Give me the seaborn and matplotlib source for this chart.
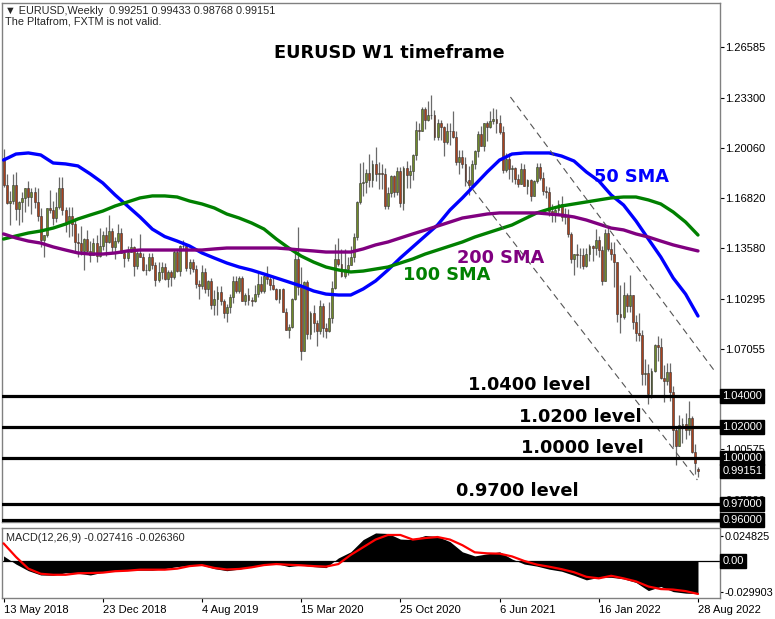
import numpy as np
import matplotlib
matplotlib.use('Agg')
import matplotlib.pyplot as plt
import matplotlib.transforms as mtransforms
import seaborn as sns

# ─── Weekly EURUSD bars, 13 May 2018 .. 28 Aug 2022 (bar index = week number)
#
FIRST_OPEN = 1.1943
LAST_OPEN = 0.99251

CLOSE = [
    1.1768, 1.1652, 1.1660, 1.1768, 1.1609, 1.1654, 1.1684, 1.1747, 1.1686, 1.1719,
    1.1658, 1.1567, 1.1410, 1.1439, 1.1620, 1.1602, 1.1551, 1.1625, 1.1748, 1.1604,
    1.1524, 1.1562, 1.1511, 1.1400, 1.1388, 1.1336, 1.1418, 1.1338, 1.1312, 1.1388,
    1.1306, 1.1370, 1.1443, 1.1398, 1.1468, 1.1363, 1.1406, 1.1456, 1.1326, 1.1296,
    1.1333, 1.1365, 1.1241, 1.1325, 1.1301, 1.1217, 1.1216, 1.1300, 1.1245, 1.1150,
    1.1201, 1.1234, 1.1158, 1.1204, 1.1169, 1.1333, 1.1209, 1.1370, 1.1370, 1.1226,
    1.1269, 1.1221, 1.1127, 1.1109, 1.1202, 1.1090, 1.1143, 1.0989, 1.1030, 1.1073,
    1.1017, 1.0940, 1.0978, 1.1042, 1.1144, 1.1080, 1.1165, 1.1017, 1.1051, 1.1021,
    1.1018, 1.1060, 1.1122, 1.1079, 1.1176, 1.1158, 1.1121, 1.1090, 1.1027, 1.1092,
    1.0944, 1.0830, 1.0847, 1.1026, 1.1285, 1.1106, 1.0690, 1.1140, 1.0800, 1.0936,
    1.0876, 1.0818, 1.0982, 1.0841, 1.0821, 1.0902, 1.1098, 1.1290, 1.1255, 1.1177,
    1.1219, 1.1249, 1.1298, 1.1426, 1.1655, 1.1778, 1.1787, 1.1842, 1.1795, 1.1903,
    1.1838, 1.1845, 1.1837, 1.1632, 1.1716, 1.1826, 1.1718, 1.1859, 1.1646, 1.1875,
    1.1833, 1.1856, 1.1962, 1.2121, 1.2114, 1.2255, 1.2186, 1.2217, 1.2220, 1.2079,
    1.2169, 1.2138, 1.2045, 1.2117, 1.2117, 1.2076, 1.1916, 1.1950, 1.1904, 1.1796,
    1.1763, 1.1900, 1.1983, 1.2098, 1.2019, 1.2164, 1.2143, 1.2180, 1.2193, 1.2169,
    1.2107, 1.1864, 1.1936, 1.1866, 1.1877, 1.1807, 1.1772, 1.1870, 1.1761, 1.1795,
    1.1697, 1.1794, 1.1880, 1.1813, 1.1725, 1.1719, 1.1597, 1.1572, 1.1601, 1.1645,
    1.1559, 1.1567, 1.1446, 1.1288, 1.1318, 1.1316, 1.1315, 1.1240, 1.1319, 1.1370,
    1.1359, 1.1413, 1.1343, 1.1147, 1.1452, 1.1349, 1.1322, 1.1267, 1.0929, 1.0911,
    1.1052, 1.0983, 1.1051, 1.0877, 1.0810, 1.0793, 1.0545, 1.0552, 1.0411, 1.0562,
    1.0733, 1.0719, 1.0519, 1.0497, 1.0554, 1.0426, 1.0182, 1.0079, 1.0212, 1.0219,
    1.0180, 1.0260, 1.0039, 0.9965, 0.99151,
]

HIGH = [
    1.1997, 1.1835, 1.1725, 1.1840, 1.1852, 1.1660, 1.1720, 1.1746, 1.1790, 1.1745,
    1.1750, 1.1746, 1.1620, 1.1445, 1.1620, 1.1734, 1.1660, 1.1720, 1.1815, 1.1815,
    1.1625, 1.1621, 1.1623, 1.1549, 1.1457, 1.1500, 1.1420, 1.1472, 1.1403, 1.1420,
    1.1443, 1.1485, 1.1470, 1.1497, 1.1570, 1.1490, 1.1430, 1.1514, 1.1490, 1.1340,
    1.1370, 1.1420, 1.1370, 1.1340, 1.1449, 1.1325, 1.1255, 1.1323, 1.1324, 1.1265,
    1.1265, 1.1265, 1.1264, 1.1215, 1.1213, 1.1348, 1.1347, 1.1377, 1.1412, 1.1380,
    1.1285, 1.1285, 1.1250, 1.1153, 1.1250, 1.1230, 1.1150, 1.1165, 1.1085, 1.1110,
    1.1110, 1.1025, 1.0998, 1.1063, 1.1180, 1.1180, 1.1175, 1.1175, 1.1070, 1.1097,
    1.1040, 1.1117, 1.1200, 1.1175, 1.1188, 1.1240, 1.1170, 1.1173, 1.1100, 1.1095,
    1.1100, 1.0970, 1.0866, 1.1035, 1.1357, 1.1496, 1.1236, 1.1147, 1.1148, 1.0951,
    1.0990, 1.0890, 1.1019, 1.1000, 1.0876, 1.1008, 1.1147, 1.1384, 1.1422, 1.1350,
    1.1350, 1.1303, 1.1371, 1.1452, 1.1659, 1.1908, 1.1916, 1.1870, 1.1966, 1.1925,
    1.2011, 1.1917, 1.1900, 1.1873, 1.1755, 1.1830, 1.1830, 1.1880, 1.1880, 1.1891,
    1.1920, 1.1894, 1.1964, 1.2177, 1.2167, 1.2273, 1.2272, 1.2310, 1.2349, 1.2250,
    1.2190, 1.2185, 1.2150, 1.2169, 1.2170, 1.2243, 1.2113, 1.1990, 1.1990, 1.1945,
    1.1886, 1.1928, 1.1995, 1.2117, 1.2150, 1.2170, 1.2181, 1.2245, 1.2266, 1.2255,
    1.2218, 1.2150, 1.1975, 1.1975, 1.1895, 1.1880, 1.1835, 1.1909, 1.1900, 1.1807,
    1.1805, 1.1800, 1.1909, 1.1909, 1.1850, 1.1760, 1.1750, 1.1640, 1.1624, 1.1668,
    1.1692, 1.1616, 1.1610, 1.1460, 1.1319, 1.1383, 1.1355, 1.1360, 1.1360, 1.1386,
    1.1376, 1.1483, 1.1436, 1.1370, 1.1484, 1.1495, 1.1395, 1.1395, 1.1266, 1.1121,
    1.1137, 1.1070, 1.1185, 1.1054, 1.0924, 1.0936, 1.0830, 1.0642, 1.0606, 1.0580,
    1.0737, 1.0787, 1.0774, 1.0601, 1.0614, 1.0615, 1.0465, 1.0200, 1.0278, 1.0258,
    1.0293, 1.0368, 1.0273, 1.0090, 0.99433,
]

LOW = [
    1.1750, 1.1645, 1.1510, 1.1645, 1.1541, 1.1508, 1.1528, 1.1590, 1.1628, 1.1575,
    1.1614, 1.1530, 1.1366, 1.1301, 1.1432, 1.1585, 1.1510, 1.1526, 1.1610, 1.1570,
    1.1463, 1.1432, 1.1433, 1.1335, 1.1301, 1.1314, 1.1216, 1.1335, 1.1267, 1.1321,
    1.1269, 1.1300, 1.1344, 1.1309, 1.1390, 1.1335, 1.1290, 1.1390, 1.1325, 1.1234,
    1.1276, 1.1330, 1.1175, 1.1220, 1.1300, 1.1210, 1.1183, 1.1210, 1.1225, 1.1111,
    1.1135, 1.1160, 1.1150, 1.1106, 1.1115, 1.1160, 1.1201, 1.1180, 1.1350, 1.1207,
    1.1193, 1.1200, 1.1101, 1.1027, 1.1090, 1.1066, 1.1050, 1.0965, 1.0926, 1.0927,
    1.0990, 1.0905, 1.0879, 1.0940, 1.1000, 1.1070, 1.1070, 1.1014, 1.0990, 1.0990,
    1.0981, 1.1008, 1.1040, 1.1065, 1.1066, 1.1125, 1.1085, 1.1085, 1.1020, 1.1000,
    1.0941, 1.0827, 1.0778, 1.0840, 1.1020, 1.1055, 1.0636, 1.0690, 1.0768, 1.0769,
    1.0813, 1.0727, 1.0800, 1.0782, 1.0775, 1.0815, 1.0870, 1.1095, 1.1240, 1.1168,
    1.1166, 1.1185, 1.1253, 1.1270, 1.1413, 1.1644, 1.1696, 1.1712, 1.1753, 1.1754,
    1.1789, 1.1737, 1.1737, 1.1612, 1.1612, 1.1687, 1.1689, 1.1702, 1.1622, 1.1602,
    1.1745, 1.1745, 1.1800, 1.1925, 1.2058, 1.2114, 1.2129, 1.2180, 1.2193, 1.2054,
    1.2054, 1.2058, 1.1952, 1.2031, 1.2023, 1.2070, 1.1893, 1.1835, 1.1873, 1.1762,
    1.1704, 1.1760, 1.1870, 1.1950, 1.2020, 1.1985, 1.2051, 1.2136, 1.2158, 1.2102,
    1.2094, 1.1846, 1.1847, 1.1807, 1.1782, 1.1770, 1.1752, 1.1770, 1.1760, 1.1705,
    1.1664, 1.1697, 1.1780, 1.1800, 1.1700, 1.1684, 1.1563, 1.1529, 1.1524, 1.1570,
    1.1535, 1.1512, 1.1432, 1.1264, 1.1185, 1.1235, 1.1226, 1.1222, 1.1234, 1.1273,
    1.1272, 1.1315, 1.1299, 1.1121, 1.1142, 1.1340, 1.1280, 1.1106, 1.0878, 1.0806,
    1.0900, 1.0945, 1.0945, 1.0837, 1.0757, 1.0756, 1.0470, 1.0470, 1.0350, 1.0386,
    1.0557, 1.0627, 1.0510, 1.0359, 1.0469, 1.0366, 1.0072, 0.9952, 1.0079, 1.0096,
    1.0123, 1.0148, 1.0034, 0.9899, 0.98768,
]

# ─── Moving averages and MACD, read every 4 weeks
#
BARS_4W = list(range(0, 225, 4))
SMA_50 = [1.1927, 1.1966, 1.1973, 1.1960, 1.1908, 1.1902, 1.1889, 1.1837, 1.1779, 1.1701,
          1.1630, 1.1559, 1.1480, 1.1432, 1.1403, 1.1371, 1.1326, 1.1293, 1.1261, 1.1235,
          1.1215, 1.1190, 1.1164, 1.1138, 1.1112, 1.1080, 1.1060, 1.1054, 1.1054, 1.1093,
          1.1145, 1.1216, 1.1294, 1.1365, 1.1436, 1.1507, 1.1604, 1.1682, 1.1766, 1.1850,
          1.1927, 1.1966, 1.1973, 1.1973, 1.1973, 1.1953, 1.1921, 1.1850, 1.1792, 1.1701,
          1.1636, 1.1533, 1.1416, 1.1300, 1.1164, 1.1060, 1.0918]
SMA_100 = [1.1416, 1.1436, 1.1455, 1.1468, 1.1487, 1.1513, 1.1546, 1.1572, 1.1597, 1.1630,
           1.1656, 1.1682, 1.1695, 1.1695, 1.1688, 1.1662, 1.1643, 1.1617, 1.1578, 1.1552,
           1.1520, 1.1481, 1.1416, 1.1358, 1.1306, 1.1267, 1.1235, 1.1216, 1.1203, 1.1209,
           1.1222, 1.1235, 1.1261, 1.1287, 1.1319, 1.1345, 1.1371, 1.1397, 1.1429, 1.1455,
           1.1481, 1.1507, 1.1546, 1.1585, 1.1610, 1.1630, 1.1643, 1.1656, 1.1669, 1.1682,
           1.1688, 1.1688, 1.1669, 1.1643, 1.1591, 1.1526, 1.1442]
SMA_200 = [1.1449, 1.1423, 1.1403, 1.1390, 1.1365, 1.1345, 1.1326, 1.1319, 1.1319, 1.1326,
           1.1339, 1.1345, 1.1345, 1.1345, 1.1345, 1.1345, 1.1345, 1.1352, 1.1358, 1.1358,
           1.1358, 1.1358, 1.1358, 1.1352, 1.1345, 1.1339, 1.1332, 1.1332, 1.1332, 1.1352,
           1.1378, 1.1397, 1.1423, 1.1449, 1.1474, 1.1500, 1.1526, 1.1552, 1.1565, 1.1578,
           1.1585, 1.1585, 1.1585, 1.1585, 1.1578, 1.1571, 1.1559, 1.1539, 1.1513, 1.1487,
           1.1475, 1.1449, 1.1429, 1.1403, 1.1378, 1.1358, 1.1339]
MACD_MAIN = [0.0050, -0.0030, -0.0095, -0.0137, -0.0140, -0.0115, -0.0120, -0.0137,
             -0.0110, -0.0095, -0.0090, -0.0090, -0.0090, -0.0075, -0.0055, -0.0045,
             -0.0040, -0.0075, -0.0095, -0.0080, -0.0055, -0.0035, -0.0025, -0.0055,
             -0.0040, -0.0055, -0.0065, 0.0030, 0.0090, 0.0210, 0.0275, 0.0270,
             0.0215, 0.0210, 0.0250, 0.0240, 0.0190, 0.0090, 0.0050, 0.0070,
             0.0090, 0.0020, -0.0030, -0.0050, -0.0080, -0.0100, -0.0140, -0.0185,
             -0.0160, -0.0160, -0.0175, -0.0210, -0.0290, -0.0250, -0.0300, -0.0315,
             -0.0320]
MACD_SIGNAL = [0.0173, 0.0040, -0.0075, -0.0125, -0.0135, -0.0135, -0.0120, -0.0118,
               -0.0114, -0.0100, -0.0095, -0.0085, -0.0085, -0.0085, -0.0075, -0.0050,
               -0.0040, -0.0068, -0.0083, -0.0078, -0.0062, -0.0040, -0.0030, -0.0037,
               -0.0042, -0.0050, -0.0055, -0.0030, 0.0060, 0.0135, 0.0210, 0.0255,
               0.0255, 0.0210, 0.0225, 0.0235, 0.0210, 0.0155, 0.0085, 0.0075,
               0.0072, 0.0045, 0.0000, -0.0035, -0.0056, -0.0080, -0.0110, -0.0155,
               -0.0170, -0.0145, -0.0170, -0.0200, -0.0250, -0.0275, -0.0280, -0.0295,
               -0.0323]

# ─── Levels, axis labels, drawn channel
#
LEVELS = [1.04, 1.02, 1.00, 0.97, 0.96]
LEVEL_TEXT = ['1.0400 level', '1.0200 level', '1.0000 level', '0.9700 level']
PRICE_TICKS = [1.26585, 1.23300, 1.20060, 1.16820, 1.13580, 1.10295, 1.07055, 1.00575, 0.97290]
MACD_TICKS = [0.024825, -0.029903]
DATE_TICK_BARS = [0, 32, 64, 96, 128, 160, 192, 224]
DATE_LABELS = ['13 May 2018', '23 Dec 2018', '4 Aug 2019', '15 Mar 2020',
               '25 Oct 2020', '6 Jun 2021', '16 Jan 2022', '28 Aug 2022']
CHANNEL = [((163.5, 1.2335), (229.6, 1.0556)),
           ((149.0, 1.1798), (223.8, 0.9857))]

sns.set_style('white')
plt.rcParams['font.family'] = ['DejaVu Sans']
SMALL = ['Liberation Sans', 'DejaVu Sans']

W, H = 775, 619
fig = plt.figure(figsize=(W / 100, H / 100), dpi=100)


def px_box(x0, y0, x1, y1):
    return [x0 / W, 1 - y1 / H, (x1 - x0) / W, (y1 - y0) / H]


ax = fig.add_axes(px_box(2, 3, 720, 522))
mx = fig.add_axes(px_box(2, 528, 720, 598))

# ─── Candles
#
close = np.array(CLOSE)
opens = np.array([FIRST_OPEN] + CLOSE[:-1])
opens[-1] = LAST_OPEN
high = np.maximum(np.array(HIGH), np.maximum(opens, close))
low = np.minimum(np.array(LOW), np.minimum(opens, close))
bars = np.arange(len(close))
up = close >= opens

ax.vlines(bars, low, high, color='#6a6a6a', lw=0.9, zorder=2)
ax.bar(bars[up], (close - opens)[up], bottom=opens[up], width=0.62,
       color='#6f8a2a', edgecolor='#333333', lw=0.4, zorder=3)
ax.bar(bars[~up], (close - opens)[~up], bottom=opens[~up], width=0.62,
       color='#a9421d', edgecolor='#333333', lw=0.4, zorder=3)

# ─── Moving averages
#
sns.lineplot(x=BARS_4W, y=SMA_50, ax=ax, color='#0000ff', linewidth=2.4, zorder=4)
sns.lineplot(x=BARS_4W, y=SMA_100, ax=ax, color='#008000', linewidth=2.4, zorder=4)
sns.lineplot(x=BARS_4W, y=SMA_200, ax=ax, color='#800080', linewidth=2.4, zorder=4)

# channel lines
for (b0, p0), (b1, p1) in CHANNEL:
    ax.plot([b0, b1], [p0, p1], color='#555555', lw=0.8, ls=(0, (6, 4)), zorder=4)

# horizontal levels
trans = mtransforms.blended_transform_factory(ax.transAxes, ax.transData)
box = dict(boxstyle='square,pad=0.18', fc='black', ec='black')
for lv in LEVELS:
    ax.axhline(lv, color='black', lw=2.3, zorder=5)
    ax.text(1.003, lv, f'{lv:.5f}', transform=trans, color='white', fontsize=8,
            family=SMALL, va='center', ha='left', zorder=10, clip_on=False, bbox=box)
ax.text(1.003, CLOSE[-1], f'{CLOSE[-1]:.5f}', transform=trans, color='white', fontsize=8,
        family=SMALL, va='center', ha='left', zorder=10, clip_on=False, bbox=box)

ax.set_xlim(-0.5, 231.1)
ax.set_ylim(0.95853, 1.29432)
ax.set_xticks([])
ax.yaxis.tick_right()
ax.set_yticks(PRICE_TICKS)
ax.set_yticklabels([f'{t:.5f}' for t in PRICE_TICKS], family=SMALL)
ax.tick_params(axis='y', length=3, width=0.8, labelsize=8, pad=1, colors='black', right=True)
for s in ax.spines.values():
    s.set_color('#808080')
    s.set_linewidth(1.0)

# ─── Annotations
#
def put(text, x, y, color='black'):
    fig.text(x / W, 1 - y / H, text, color=color, fontsize=12.8, fontweight='bold',
             ha='center', va='baseline')


put('EURUSD W1 timeframe', 389, 58)
put('50 SMA', 632, 182, '#0000ff')
put('200 SMA', 501, 263, '#800080')
put('100 SMA', 447, 280, '#008000')
put(LEVEL_TEXT[0], 529, 390)
put(LEVEL_TEXT[1], 580, 422)
put(LEVEL_TEXT[2], 582, 453)
put(LEVEL_TEXT[3], 517, 496)

fig.text(5 / W, 1 - 11 / H, '▼ EURUSD,Weekly  0.99251 0.99433 0.98768 0.99151',
         fontsize=7.8, family=SMALL, va='center')
fig.text(5 / W, 1 - 21 / H, 'The Pltafrom, FXTM is not valid.',
         fontsize=7.8, family=SMALL, va='center')

# ─── MACD panel
#
mx.fill_between(BARS_4W, 0, MACD_MAIN, color='black', lw=0, zorder=2)
sns.lineplot(x=BARS_4W, y=MACD_SIGNAL, ax=mx, color='#ff0000', linewidth=1.6, zorder=3)
mx.axhline(0, color='black', lw=0.9, zorder=1)
mx.set_xlim(-0.5, 231.1)
mx.set_ylim(-0.03626, 0.03234)
mx.yaxis.tick_right()
mx.set_yticks(MACD_TICKS)
mx.set_yticklabels([f'{t:.6f}' for t in MACD_TICKS], family=SMALL)
mx.tick_params(axis='y', length=2, width=0.8, labelsize=7.8, pad=1, colors='black', right=True)
mt = mtransforms.blended_transform_factory(mx.transAxes, mx.transData)
mx.text(1.003, 0, '0.00', transform=mt, color='white', fontsize=8, family=SMALL,
        va='center', ha='left', clip_on=False, bbox=box)
mx.text(0.005, 0.86, 'MACD(12,26,9) -0.027416 -0.026360', transform=mx.transAxes,
        fontsize=7.8, family=SMALL, va='center')

mx.set_xticks(DATE_TICK_BARS)
mx.set_xticklabels(DATE_LABELS, family=SMALL, ha='left')
mx.tick_params(axis='x', length=3, width=0.8, labelsize=8, pad=2, colors='black', bottom=True)
for s in mx.spines.values():
    s.set_color('#808080')
    s.set_linewidth(1.0)

fig.savefig('out.png', dpi=100)
